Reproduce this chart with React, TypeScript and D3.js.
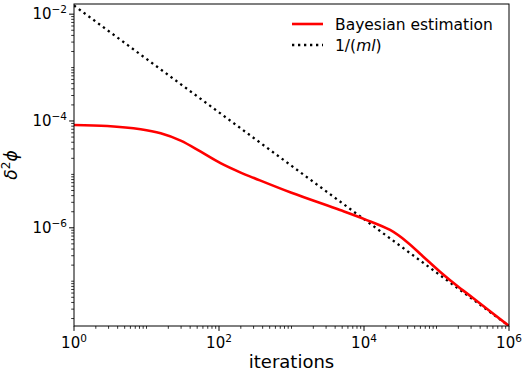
import React from "react";
import * as d3 from "d3";

const iterations = [1, 2.88, 8.3, 15.7, 29.6, 56, 105, 199, 304, 1000, 4670, 10300, 22900, 38800, 65800, 111700, 190000, 322000, 1000000];
const bayesian = [8.41e-5, 8.05e-5, 6.98e-5, 5.87e-5, 4.28e-5, 2.66e-5, 1.62e-5, 1.08e-5, 8.55e-6, 4.52e-6, 2.15e-6, 1.44e-6, 9.1e-7, 5.5e-7, 2.88e-7, 1.51e-7, 8.3e-8, 4.79e-8, 1.45e-8];
const boundX = [1, 1000000];
const boundY = [0.0145, 1.45e-8];
const xMajor = [0, 2, 4, 6];
const yMajor = [-2, -4, -6];

const W = 523, H = 372;
const M = { left: 74, top: 4, right: 14, bottom: 46 };
const FONT = "DejaVu Sans, sans-serif";

export default function App() {
  const x = d3.scaleLog().domain([1, 1e6]).range([M.left, W - M.right]);
  const y = d3.scaleLog().domain([1.45e-8, 1.55e-2]).range([H - M.bottom, M.top]);
  const line = d3.line<[number, number]>().x(d => x(d[0])).y(d => y(d[1])).curve(d3.curveCatmullRom.alpha(0.5));
  const straight = d3.line<[number, number]>().x(d => x(d[0])).y(d => y(d[1]));
  const bayesPts = iterations.map((v, i) => [v, bayesian[i]] as [number, number]);
  const boundPts = boundX.map((v, i) => [v, boundY[i]] as [number, number]);

  const xMinor: number[] = [];
  for (let e = 0; e < 6; e++) for (let k = 1; k < 10; k++) {
    const v = k * Math.pow(10, e);
    if (k === 1 && e % 2 === 0) continue;
    xMinor.push(v);
  }
  const yMinor: number[] = [];
  for (let e = -8; e < -1; e++) for (let k = 1; k < 10; k++) {
    const v = k * Math.pow(10, e);
    if (k === 1 && e % 2 === 0) continue;
    if (v < 1.45e-8 || v > 1.55e-2) continue;
    yMinor.push(v);
  }
  const bottom = H - M.bottom;
  const left = M.left;

  return (
    <svg width={W} height={H} style={{ position: "absolute", left: 0, top: 0, background: "#fff" }} fontFamily={FONT}>
      <defs>
        <clipPath id="clip">
          <rect x={M.left} y={M.top} width={W - M.left - M.right} height={H - M.top - M.bottom} />
        </clipPath>
      </defs>
      <g clipPath="url(#clip)">
        <path d={straight(boundPts) || ""} fill="none" stroke="#000" strokeWidth={2.3} strokeDasharray="2.3,3.7" />
        <path d={line(bayesPts) || ""} fill="none" stroke="#ff0000" strokeWidth={2.6} />
      </g>
      <rect x={M.left} y={M.top} width={W - M.left - M.right} height={H - M.top - M.bottom} fill="none" stroke="#000" strokeWidth={1} />
      {xMinor.map((v, i) => (
        <line key={"xm" + i} x1={x(v)} x2={x(v)} y1={bottom} y2={bottom + 2.8} stroke="#000" strokeWidth={0.8} />
      ))}
      {xMajor.map(e => (
        <g key={"xM" + e}>
          <line x1={x(Math.pow(10, e))} x2={x(Math.pow(10, e))} y1={bottom} y2={bottom + 4.9} stroke="#000" strokeWidth={1} />
          <text x={x(Math.pow(10, e))} y={bottom + 22} textAnchor="middle" fontSize={15} fill="#000">
            10<tspan fontSize={10.5} dy={-6}>{e}</tspan>
          </text>
        </g>
      ))}
      {yMinor.map((v, i) => (
        <line key={"ym" + i} x1={left} x2={left - 2.8} y1={y(v)} y2={y(v)} stroke="#000" strokeWidth={0.8} />
      ))}
      {yMajor.map(e => (
        <g key={"yM" + e}>
          <line x1={left} x2={left - 4.9} y1={y(Math.pow(10, e))} y2={y(Math.pow(10, e))} stroke="#000" strokeWidth={1} />
          <text x={left - 7} y={y(Math.pow(10, e)) + 5} textAnchor="end" fontSize={15} fill="#000">
            10<tspan fontSize={10.5} dy={-6}>{"\u2212" + Math.abs(e)}</tspan>
          </text>
        </g>
      ))}
      <text x={(M.left + W - M.right) / 2} y={368} textAnchor="middle" fontSize={18} fill="#000">iterations</text>
      <text transform={`translate(17, 165) rotate(-90)`} textAnchor="middle" fontSize={17} fill="#000">
        <tspan fontStyle="italic">δ</tspan><tspan fontSize={12} dy={-7}>2</tspan><tspan fontStyle="italic" dy={7}>ϕ</tspan>
      </text>
      <g>
        <line x1={292} x2={323} y1={24} y2={24} stroke="#ff0000" strokeWidth={2.6} />
        <text x={335} y={29.5} fontSize={15.5} fill="#000">Bayesian estimation</text>
        <line x1={292} x2={323} y1={45} y2={45} stroke="#000" strokeWidth={2.3} strokeDasharray="2.3,3.7" />
        <text x={335} y={50.5} fontSize={15.5} fill="#000">1/(<tspan fontStyle="italic">ml</tspan>)</text>
      </g>
    </svg>
  );
}
